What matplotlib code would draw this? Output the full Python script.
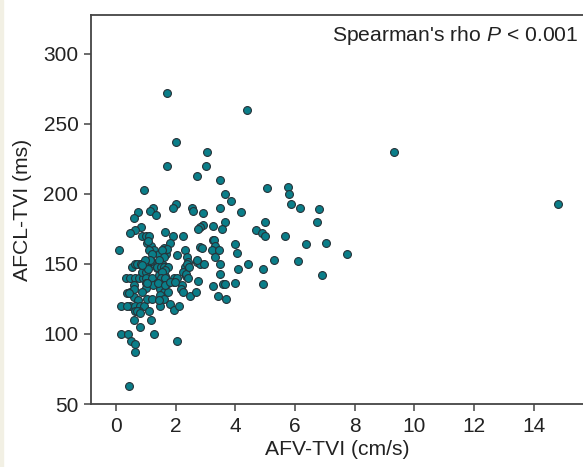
import matplotlib
matplotlib.use("Agg")
import matplotlib.pyplot as plt
from matplotlib.patches import Rectangle

plt.rcParams['font.family'] = ['Liberation Sans', 'DejaVu Sans']
plt.rcParams['mathtext.fontset'] = 'custom'
plt.rcParams['mathtext.it'] = 'Liberation Sans:italic'
plt.rcParams['mathtext.rm'] = 'Liberation Sans'

# AFV-TVI (cm/s)
afv = [
    1.7, 4.4, 2.0, 1.7, 3.05, 3.0, 2.7, 3.5, 3.65, 3.85, 0.95, 4.2, 5.05, 5.75, 5.8, 5.85, 6.15, 6.8, 6.75, 9.3, 14.8,
    6.35, 7.05, 7.75, 6.1, 6.9,
    0.72, 0.6, 1.25, 1.15, 1.33, 2.0, 1.9, 2.55, 2.57, 2.9, 3.5, 3.65, 3.55, 3.25, 2.9, 2.83, 2.75, 1.65, 1.9, 2.25,
    3.25, 0.82, 0.62, 0.48, 0.88, 1.0, 1.12, 5.0, 4.7, 4.9, 5.0, 5.65,
    0.1, 1.05, 1.17, 1.26, 1.1, 1.44, 1.6, 1.68, 1.82, 2.05, 2.3, 2.38, 2.42, 2.3, 2.25, 2.35, 2.2, 2.16, 2.24, 2.47,
    2.68, 2.75, 2.72, 2.82, 2.87, 2.82, 2.95, 3.28, 3.33, 3.2, 3.44, 3.31, 3.5, 3.5, 3.24, 3.42, 3.58, 3.66, 3.7,
    4.0, 4.07, 4.1, 3.97, 4.43, 4.93, 4.93, 5.3,
    0.17, 0.37, 0.48, 0.34, 0.48, 0.62, 0.77, 0.91, 0.54, 0.65, 0.79, 0.87, 1.0, 1.0, 1.0, 1.0, 0.87, 0.59, 0.59,
    0.59, 0.74, 0.48, 0.65, 0.79, 0.93, 0.76, 0.65, 0.59, 0.79, 0.18, 0.39, 0.51, 0.65, 0.65, 0.44, 1.12, 1.18,
    1.26, 1.04, 1.21, 1.21, 1.26, 1.04, 1.17, 1.38, 1.43, 1.46, 1.38, 1.46, 1.6, 1.46, 1.6, 1.46, 1.43, 1.56, 1.71,
    1.57, 1.65, 1.74, 1.74, 1.82, 1.93, 2.1, 2.05, 1.93, 1.93,
    1.08, 1.72, 1.53, 1.19, 1.59, 1.45, 0.7, 0.82, 0.94, 1.14, 0.97, 1.36, 1.5, 1.6, 1.75, 1.64, 1.53, 1.08, 0.86,
    1.5, 1.64, 2.03, 2.34, 1.25, 1.42, 1.03, 1.64, 1.81, 1.98,
    2.38, 2.46, 2.4, 2.7, 0.42, 0.35, 0.7, 0.79,
]

# AFCL-TVI (ms)
afcl = [
    272, 260, 237, 220, 230, 220, 213, 210, 200, 195, 203, 187, 204, 205, 200, 193, 190, 189, 180, 230, 193,
    164, 165, 157, 152, 142,
    187, 183, 190, 188, 185, 193, 190, 190, 188, 186, 190, 180, 175, 177, 178, 176, 175, 173, 170, 170,
    167, 176, 174, 172, 170, 170, 170, 180, 174, 172, 170, 170,
    160, 165, 163, 160, 160, 157, 161, 157, 165, 156, 160, 155, 151, 148, 144, 141, 135, 132, 130, 127,
    130, 138, 151, 162, 161, 150, 150, 167, 163, 160, 160, 155, 150, 143, 134, 127, 135.5, 135.5, 125,
    164, 158, 146, 136, 150, 146, 135.5, 153,
    120, 129, 130, 140, 140, 140, 140, 140, 148, 150, 150, 144, 144, 140, 136, 133, 130, 135, 132,
    126, 124, 120, 120, 120, 120, 116, 116, 110, 105, 100, 100, 95, 93, 87, 63, 116, 110,
    100, 125, 125, 140, 150, 150, 152, 147, 142, 138, 136, 132, 130, 128, 125, 120, 124, 149, 148,
    145.5, 141, 136, 130, 121, 117, 120, 95, 140, 137,
    166, 160.5, 160, 157, 155, 153, 150, 150, 150, 153, 153, 148, 148, 148, 148, 145.5, 144, 146, 149,
    140, 140, 140, 143, 135, 136, 136, 135, 137, 137,
    150, 148, 140, 152.6, 129, 120, 116, 115,
]

xticks = [0, 2, 4, 6, 8, 10, 12, 14]
yticks = [50, 100, 150, 200, 250, 300]

fig = plt.figure(figsize=(5.83, 4.67), dpi=100)
fig.patches.append(Rectangle((0, 0), 3 / 583, 1, transform=fig.transFigure,
                             color='#f2f0e4', zorder=0))
ax = fig.add_axes([91 / 583, 1 - 404 / 467, 1 - 91 / 583, (404 - 15) / 467])

ax.scatter(afv, afcl, s=32, c='#0a7e89', edgecolors='#263238', linewidths=0.8, zorder=3)

ax.set_xlim(-0.84, 15.65)
ax.set_ylim(50, 327.5)
ax.set_xticks(xticks)
ax.set_yticks(yticks)

ax.spines['right'].set_visible(False)
for side in ['left', 'bottom', 'top']:
    ax.spines[side].set_color('#444444')
    ax.spines[side].set_linewidth(1.3)
ax.tick_params(direction='out', length=5, width=1.1, color='#444444',
               labelsize=15, labelcolor='#222222', pad=4)

ax.set_xlabel('AFV-TVI (cm/s)', fontsize=15.2, color='#222222', labelpad=3)
ax.set_ylabel('AFCL-TVI (ms)', fontsize=15.2, color='#222222', labelpad=8)

ax.text(0.99, 0.947, "Spearman's rho $P$ < 0.001", transform=ax.transAxes,
        ha='right', va='center', fontsize=15.2, color='#222222')

fig.savefig('out.png', dpi=100)
